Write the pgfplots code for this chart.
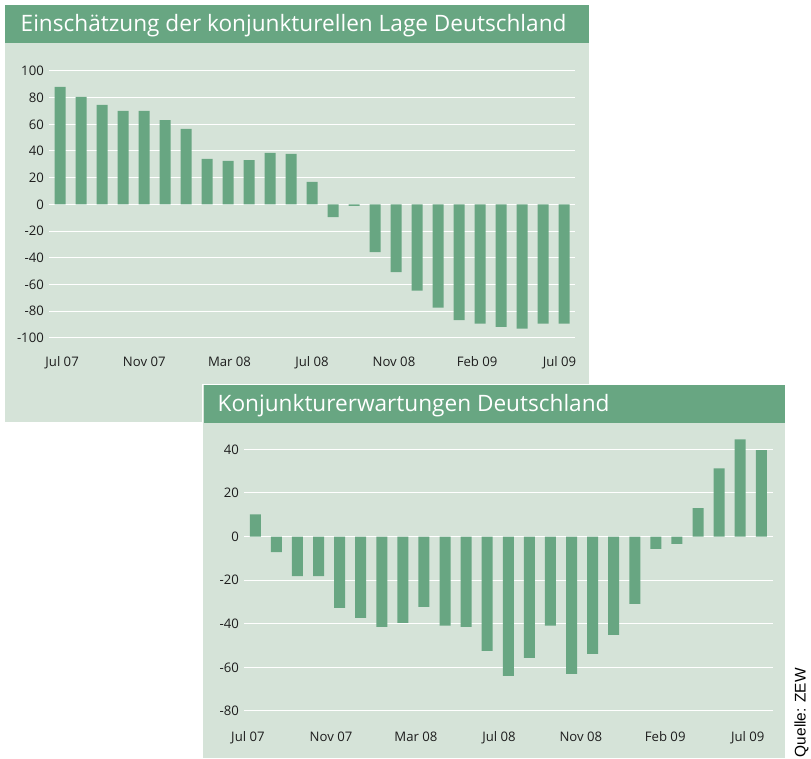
\documentclass[border=0pt]{standalone}
\usepackage{pgfplots}
\pgfplotsset{compat=1.18}
\usepackage{pgfplotstable}
\usepackage{fontspec}
\setmainfont{Open Sans}
\newfontfamily\srcfont{Liberation Sans}

\definecolor{zewgreen}{HTML}{68A682}
\definecolor{zewbg}{HTML}{D5E3D8}
\definecolor{ticktext}{HTML}{1E1E1E}

% Einschaetzung der konjunkturellen Lage, Jul 07 .. Jul 09
\pgfplotstableread{
idx val
1 88
2 80.5
3 74.5
4 70
5 70
6 63.2
7 56.5
8 34
9 32.5
10 33.2
11 38.5
12 37.8
13 16.8
14 -9.5
15 -1.2
16 -35.8
17 -50.8
18 -64.8
19 -77.5
20 -86.8
21 -89.5
22 -91.8
23 -93.2
24 -89.5
25 -89.5
}\lage

% Konjunkturerwartungen, Jul 07 .. Jul 09
\pgfplotstableread{
idx val
1 10.2
2 -7.2
3 -18.1
4 -18.1
5 -32.7
6 -37.3
7 -41.4
8 -39.6
9 -32.2
10 -40.9
11 -41.4
12 -52.4
13 -63.9
14 -55.6
15 -40.9
16 -63.0
17 -53.8
18 -45.1
19 -30.9
20 -5.7
21 -3.4
22 13.0
23 31.3
24 44.6
25 39.6
}\erwartung

\pgfplotsset{
  zewbars/.style={
    scale only axis,
    ybar, bar width=11bp,
    axis line style={draw=none},
    major tick style={draw=none},
    ymajorgrids,
    grid style={white, line width=1bp},
    tick label style={font=\fontsize{13.2}{15}\selectfont, text=ticktext},
    /pgf/number format/assume math mode=true,
    yticklabel style={anchor=east, inner sep=0pt, xshift=-5bp},
    xticklabels={Jul 07,Nov 07,Mar 08,Jul 08,Nov 08,Feb 09,Jul 09},
  },
}

\begin{document}
\begin{tikzpicture}[x=1bp,y=1bp]
\useasboundingbox (0,0) rectangle (811,759);

% top panel
\fill[zewbg] (5,337) rectangle (588.5,754);
\fill[zewgreen] (5,716) rectangle (588.5,754);
\node[anchor=base west, inner sep=0pt, text=white, font=\fontsize{22.7}{27}\selectfont]
  at (20.5,727.5) {Einschätzung der konjunkturellen Lage Deutschland};

\begin{axis}[zewbars,
  at={(49bp,421.3bp)}, anchor=south west,
  width=526bp, height=266.7bp,
  xmin=0.476, xmax=25.52, ymin=-100, ymax=100,
  ytick={-100,-80,...,100},
  xtick={1.1,5.01,9.07,13,16.9,20.86,24.78},
  xticklabel style={anchor=base, yshift=-25bp},
]
\addplot[fill=zewgreen, draw=none] table[x=idx, y=val] {\lage};
\end{axis}

% bottom panel
\fill[zewbg] (203,1) rectangle (785,374);
\draw[white, line width=1.5bp] (202.5,0.5) rectangle (785.5,374.5);
\fill[zewgreen] (203.5,336) rectangle (785,373.5);
\node[anchor=base west, inner sep=0pt, text=white, font=\fontsize{22.7}{27}\selectfont]
  at (217.5,347.3) {Konjunkturerwartungen Deutschland};

\begin{axis}[zewbars,
  at={(244bp,48bp)}, anchor=south west,
  width=528.7bp, height=283.5bp,
  xmin=0.464, xmax=25.54, ymin=-80, ymax=50,
  ytick={-80,-60,...,40},
  xtick={0.65,4.59,8.62,12.56,16.44,20.44,24.36},
  xticklabel style={anchor=base, yshift=-26.5bp},
]
\addplot[fill=zewgreen, draw=none] table[x=idx, y=val] {\erwartung};
\end{axis}

\node[rotate=90, anchor=east, inner sep=0pt, text=black, font=\srcfont\fontsize{15.5}{18}\selectfont]
  at (801.5,91) {Quelle: ZEW};
\end{tikzpicture}
\end{document}
